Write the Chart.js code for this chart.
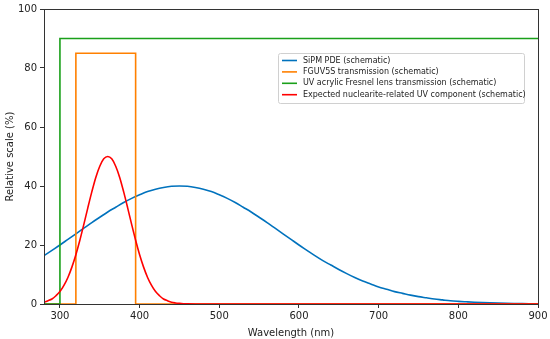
<!DOCTYPE html>
<html>
<head>
<meta charset="utf-8">
<script src="https://cdn.jsdelivr.net/npm/chart.js@4"></script>
<style>
  html, body { margin: 0; padding: 0; background: #fff; }
  #wrap { width: 550px; height: 339px; }
</style>
</head>
<body>
<div id="wrap"><canvas id="chart"></canvas></div>
<script>
// wavelength grids (nm)
const sipm_nm = [280, 290, 300, 310, 320, 330, 340, 350, 360, 370, 380, 390, 400, 410, 420, 430, 440, 450,
    460, 470, 480, 490, 500, 510, 520, 530, 540, 550, 560, 570, 580, 590, 600, 610, 620, 630, 640, 650,
    660, 670, 680, 690, 700, 710, 720, 730, 740, 750, 760, 770, 780, 790, 800, 810, 820, 830, 840, 850,
    860, 870, 880, 890, 900]
const sipm_pde = [16.4, 18.2, 20.0, 21.9, 23.8, 25.7, 27.6, 29.4, 31.2, 32.8, 34.4, 35.8, 37.0, 38.1, 38.9, 39.5, 39.9, 40.0,
    39.9, 39.5, 38.9, 38.1, 37.0, 35.8, 34.4, 32.8, 31.2, 29.4, 27.6, 25.7, 23.8, 21.9, 20.0, 18.2, 16.4, 14.7, 13.2, 11.7,
    10.3, 9.0, 7.8, 6.8, 5.8, 5.0, 4.2, 3.6, 3.0, 2.5, 2.1, 1.7, 1.4, 1.1, 0.9, 0.74, 0.59, 0.47, 0.37, 0.29,
    0.22, 0.17, 0.13, 0.1, 0.08]

const fguv_nm = [280, 320, 320, 395, 395, 900]
const fguv_trans = [0, 0, 85, 85, 0, 0]

const lens_nm = [280, 300, 300, 900]
const lens_trans = [0, 0, 90, 90]

const uv_nm = [280, 285, 290, 295, 300, 305, 310, 315, 320, 325, 330, 335, 340, 345, 350, 355, 360,
    365, 370, 375, 380, 385, 390, 395, 400, 405, 410, 415, 420, 425, 430, 435, 440, 445, 450, 455, 460, 470, 900]
const uv_comp = [0.6, 1.1, 1.7, 2.8, 4.2, 6.3, 9.0, 12.5, 16.7, 21.6, 27.0, 32.6, 38.0, 42.9, 46.7, 49.2, 50.0,
    49.2, 46.7, 42.9, 38.0, 32.6, 27.0, 21.6, 16.7, 12.5, 9.0, 6.3, 4.2, 2.8, 1.7, 1.1, 0.6, 0.35, 0.2, 0.1, 0.05, 0, 0]

const x_ticks = [300, 400, 500, 600, 700, 800, 900]
const y_ticks = [0, 20, 40, 60, 80, 100]

function pts(xs, ys) {
    return xs.map((x, i) => ({ x: x, y: ys[i] }))
}

const FONT = "'DejaVu Sans', sans-serif"
const SPINE = "#333"

// draws the box round the plot and the legend inside it
const frame_and_legend = {
    id: "frame_and_legend",
    afterDraw(chart) {
        let ctx = chart.ctx
        let a = chart.chartArea
        ctx.save()
        ctx.strokeStyle = SPINE
        ctx.lineWidth = 1
        ctx.strokeRect(Math.round(a.left) + 0.5, Math.round(a.top) + 0.5,
            Math.round(a.right - a.left), Math.round(a.bottom - a.top))

        // legend
        let bx = 278.5, by = 53.5, bw = 246, bh = 50
        ctx.fillStyle = "rgba(255,255,255,0.8)"
        ctx.strokeStyle = "#d0d0d0"
        ctx.beginPath()
        ctx.roundRect(bx, by, bw, bh, 2)
        ctx.fill()
        ctx.stroke()
        ctx.font = "8px " + FONT
        ctx.textBaseline = "middle"
        chart.data.datasets.forEach((ds, i) => {
            let y = 60.5 + i * 11.4
            ctx.strokeStyle = ds.borderColor
            ctx.lineWidth = 1.6
            ctx.beginPath()
            ctx.moveTo(282, y)
            ctx.lineTo(297, y)
            ctx.stroke()
            ctx.fillStyle = "#222"
            ctx.fillText(ds.label, 303, y)
        })
        ctx.restore()
    }
}

let canvas = document.querySelector("#chart")
new Chart(canvas, {
    type: "line",
    data: {
        datasets: [
            { label: "SiPM PDE (schematic)", data: pts(sipm_nm, sipm_pde), borderColor: "#0072bd", order: 4, cubicInterpolationMode: "monotone" },
            { label: "FGUV5S transmission (schematic)", data: pts(fguv_nm, fguv_trans), borderColor: "#ff8000", order: 3 },
            { label: "UV acrylic Fresnel lens transmission (schematic)", data: pts(lens_nm, lens_trans), borderColor: "#1aa01a", order: 2 },
            { label: "Expected nuclearite-related UV component (schematic)", data: pts(uv_nm, uv_comp), borderColor: "#ff0000", order: 1, cubicInterpolationMode: "monotone" },
        ]
    },
    options: {
        responsive: true,
        maintainAspectRatio: false,
        animation: false,
        layout: { padding: { top: 8, right: 12, left: 0, bottom: 0 } },
        elements: {
            point: { radius: 0 },
            line: { borderWidth: 1.6, tension: 0, fill: false }
        },
        plugins: {
            legend: { display: false },
            tooltip: { enabled: false }
        },
        scales: {
            x: {
                type: "linear",
                min: 280,
                max: 900,
                afterFit: (s) => { s.height = 35 },
                afterBuildTicks: (s) => { s.ticks = x_ticks.map(v => ({ value: v })) },
                ticks: { color: "#222", font: { family: FONT, size: 10 }, padding: 2, maxRotation: 0, includeBounds: false },
                grid: { display: true, drawOnChartArea: false, drawTicks: true, tickLength: 4, color: SPINE },
                border: { display: true, color: SPINE },
                title: { display: true, text: "Wavelength (nm)", color: "#222", font: { family: FONT, size: 10 }, padding: { top: 1, bottom: 0 } }
            },
            y: {
                min: 0,
                max: 100,
                afterFit: (s) => { s.width = 44 },
                afterBuildTicks: (s) => { s.ticks = y_ticks.map(v => ({ value: v })) },
                ticks: { color: "#222", font: { family: FONT, size: 10 }, padding: 3 },
                grid: { display: true, drawOnChartArea: false, drawTicks: true, tickLength: 4, color: SPINE },
                border: { display: true, color: SPINE },
                title: { display: true, text: "Relative scale (%)", color: "#222", font: { family: FONT, size: 10 }, padding: { top: 4, bottom: 4 } }
            }
        }
    },
    plugins: [frame_and_legend]
})
</script>
</body>
</html>
